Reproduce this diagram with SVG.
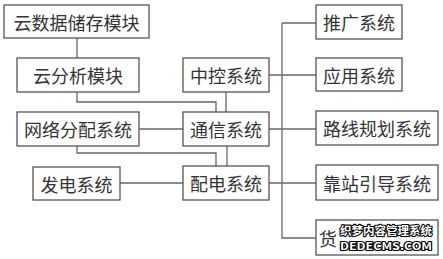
<svg xmlns="http://www.w3.org/2000/svg" width="443" height="259" viewBox="0 0 443 259">
<style>
.box{fill:#fff;stroke:#555;stroke-width:1.3}
.t{font-family:"Noto Sans CJK SC","Noto Sans",sans-serif;font-size:18px;fill:#333;text-anchor:middle;dominant-baseline:central}
.ln{fill:none;stroke:#666;stroke-width:1.3}
.wm{font-family:"Noto Sans CJK SC","DejaVu Sans",sans-serif;font-weight:bold;fill:#fff;stroke:#000;stroke-width:2.2;paint-order:stroke;stroke-linejoin:round;text-anchor:middle}
</style>
<rect width="443" height="259" fill="#fff"/>
<g id="connectors">
<path class="ln" d="M77 38V58"/>
<path class="ln" d="M77 92V102H216V112"/>
<path class="ln" d="M226 92V112"/>
<path class="ln" d="M139 129H183"/>
<path class="ln" d="M77 146V153H216V166"/>
<path class="ln" d="M227 146V166"/>
<path class="ln" d="M120 183H183"/>
<path class="ln" d="M282 23V238H316"/>
<path class="ln" d="M282 23H316"/>
<path class="ln" d="M269 75H316"/>
<path class="ln" d="M269 129H316"/>
<path class="ln" d="M269 183H316"/>
</g>
<g id="cloud-storage"><rect class="box" x="4" y="5" width="145" height="33"/><text class="t" x="76.5" y="21.5">云数据储存模块</text></g>
<g id="cloud-analysis"><rect class="box" x="17" y="58" width="122" height="34"/><text class="t" x="78" y="75">云分析模块</text></g>
<g id="network-dist"><rect class="box" x="17" y="112" width="122" height="34"/><text class="t" x="78" y="129">网络分配系统</text></g>
<g id="power-gen"><rect class="box" x="33" y="167" width="87" height="33"/><text class="t" x="76.5" y="183.5">发电系统</text></g>
<g id="central-control"><rect class="box" x="183" y="58" width="86" height="34"/><text class="t" x="226" y="75">中控系统</text></g>
<g id="communication"><rect class="box" x="183" y="112" width="86" height="34"/><text class="t" x="226" y="129">通信系统</text></g>
<g id="power-dist"><rect class="box" x="183" y="166" width="86" height="34"/><text class="t" x="226" y="183">配电系统</text></g>
<g id="promotion"><rect class="box" x="316" y="5" width="86" height="34"/><text class="t" x="359" y="22">推广系统</text></g>
<g id="application"><rect class="box" x="316" y="58" width="86" height="33"/><text class="t" x="359" y="74.5">应用系统</text></g>
<g id="route-planning"><rect class="box" x="316" y="111" width="122" height="34"/><text class="t" x="377" y="128">路线规划系统</text></g>
<g id="stop-guidance"><rect class="box" x="316" y="165" width="122" height="35"/><text class="t" x="377" y="182.5">靠站引导系统</text></g>
<g id="cargo"><rect class="box" x="316" y="220" width="122" height="35"/><text class="t" x="328" y="238">货</text>
<text class="wm" x="386" y="234.5" font-size="11.5" textLength="92" lengthAdjust="spacingAndGlyphs">织梦内容管理系统</text>
<text class="wm" x="386" y="250" font-size="10.5" textLength="92" lengthAdjust="spacingAndGlyphs">DEDECMS.COM</text></g>
</svg>
